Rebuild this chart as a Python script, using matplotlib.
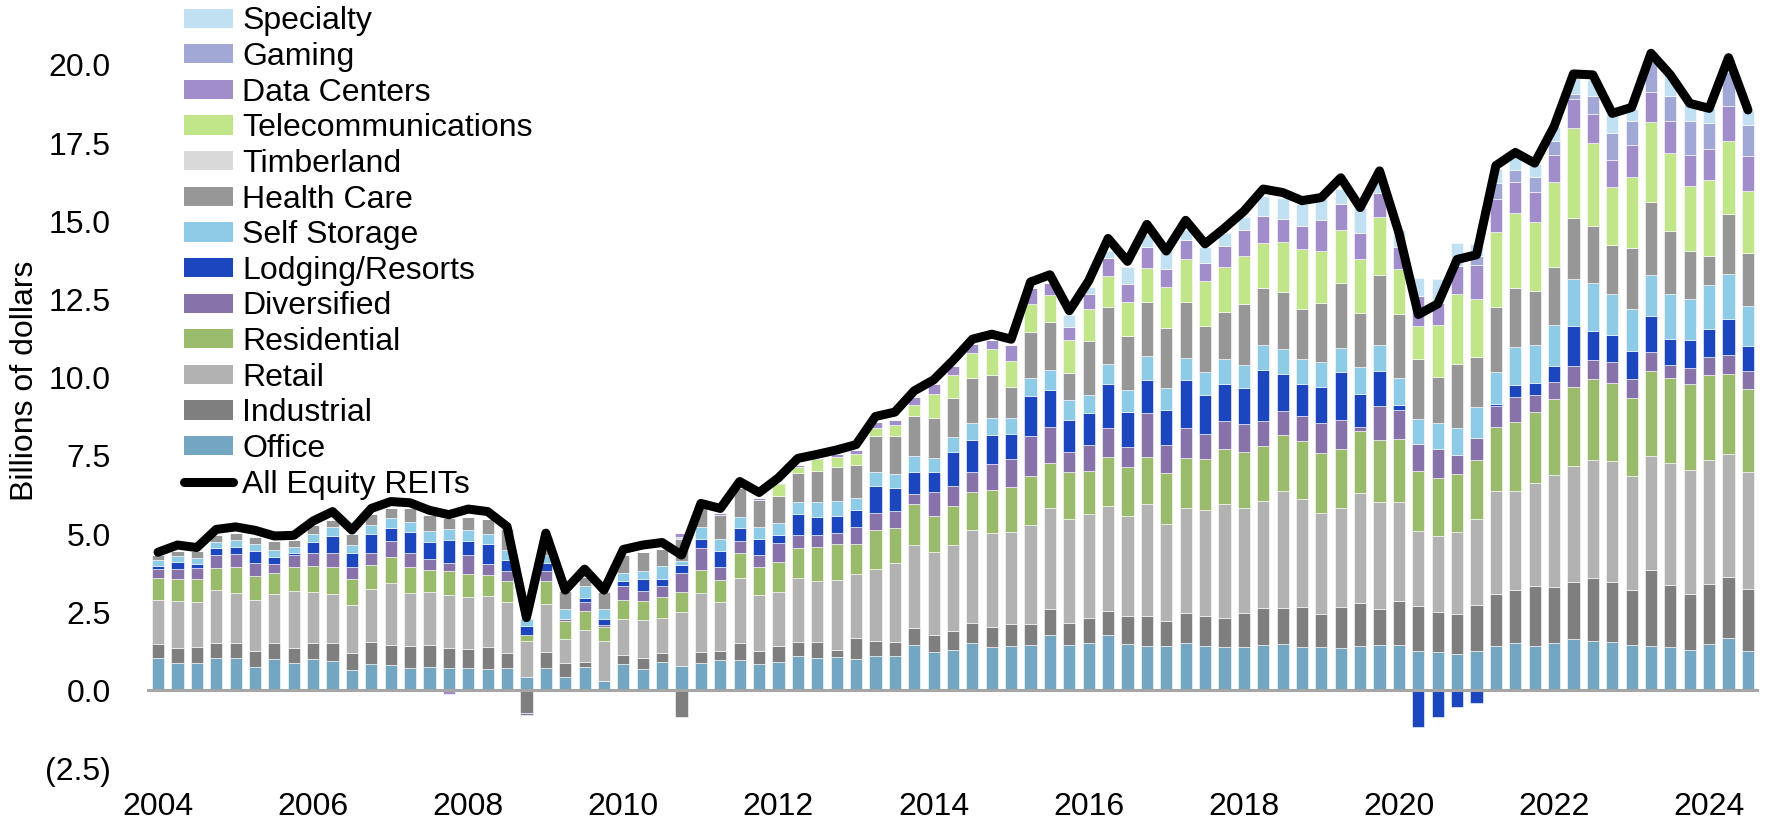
import numpy as np
import matplotlib
matplotlib.use("Agg")
import matplotlib.pyplot as plt
from matplotlib.patches import Patch
from matplotlib.lines import Line2D
from matplotlib.ticker import FuncFormatter

plt.rcParams["font.family"] = ["Liberation Sans", "DejaVu Sans"]

# quarterly, 2004Q1 .. 2024Q3, billions of dollars
office = [1.03, .88, .87, 1.04, 1.03, .75, 1.02, .87, 1.01, .95,
          .64, .84, .80, .72, .75, .72, .72, .68, .71, .44,
          .72, .43, .76, .30, .85, .70, .90, .79, .87, .97,
          .99, .85, .92, 1.11, 1.05, 1.08, 1.00, 1.10, 1.10, 1.45,
          1.24, 1.31, 1.52, 1.39, 1.41, 1.47, 1.76, 1.44, 1.52, 1.76,
          1.48, 1.43, 1.42, 1.53, 1.42, 1.38, 1.38, 1.45, 1.49, 1.38,
          1.39, 1.36, 1.42, 1.45, 1.45, 1.26, 1.23, 1.17, 1.26, 1.42,
          1.53, 1.42, 1.53, 1.64, 1.58, 1.56, 1.45, 1.43, 1.38, 1.29,
          1.49, 1.67, 1.26]
industrial = [.46, .49, .52, .47, .48, .52, .49, .50, .52, .58,
              .57, .72, .67, .70, .71, .65, .62, .72, .50, -.72,
              .52, .46, .15, 0, .28, .34, .30, -.85, .37, .30,
              .52, .41, .50, .45, .50, .20, .69, .48, .46, .56,
              .54, .58, .65, .64, .70, .67, .85, .73, .79, .79,
              .90, .95, .80, .94, .96, .93, 1.10, 1.18, 1.14, 1.28,
              1.07, 1.30, 1.39, 1.17, 1.42, 1.44, 1.29, 1.28, 1.47, 1.65,
              1.69, 1.93, 1.78, 1.84, 2.03, 1.90, 1.75, 2.41, 2.00, 1.78,
              1.93, 1.97, 2.00]
retail = [1.40, 1.50, 1.43, 1.70, 1.62, 1.61, 1.58, 1.80, 1.61, 1.54,
          1.51, 1.68, 1.96, 1.69, 1.68, 1.69, 1.65, 1.61, 1.61, 1.14,
          1.52, .77, 1.01, 1.28, 1.14, 1.20, 1.13, 1.72, 1.87, 1.55,
          2.08, 1.79, 1.74, 2.05, 1.95, 2.26, 2.05, 2.32, 2.52, 2.65,
          2.66, 2.77, 2.97, 2.99, 2.95, 3.16, 3.21, 3.32, 3.32, 3.36,
          3.21, 3.57, 3.11, 3.35, 3.38, 3.64, 3.37, 3.44, 3.75, 3.46,
          3.22, 3.19, 3.49, 3.41, 3.17, 2.39, 2.42, 2.61, 2.74, 3.31,
          3.16, 3.29, 3.57, 3.71, 3.75, 3.87, 3.65, 3.65, 3.90, 3.98,
          3.96, 3.92, 3.74]
residential = [.71, .71, .76, .71, .82, .79, .68, .78, .84, .88,
               .85, .77, .84, .84, .70, .75, .72, .68, .68, .19,
               .75, .57, .63, .46, .62, .62, .65, .65, .74, .71,
               .80, .89, .94, .96, 1.09, 1.15, .95, 1.22, 1.12, 1.29,
               1.15, 1.24, 1.21, 1.38, 1.43, 1.57, 1.44, 1.49, 1.40, 1.54,
               1.54, 1.50, 1.63, 1.61, 1.63, 1.76, 1.79, 1.74, 1.79, 1.86,
               1.91, 1.88, 1.99, 1.97, 1.99, 1.94, 1.84, 1.87, 1.91, 2.04,
               2.21, 2.26, 2.43, 2.51, 2.61, 2.51, 2.51, 2.71, 2.71, 2.75,
               2.69, 2.57, 2.65]
diversified = [.28, .32, .33, .42, .41, .40, .28, .38, .41, .45,
               .38, .40, .50, .45, .36, .25, .62, .35, .32, -.07,
               .32, .05, .28, .06, .46, .32, .37, .59, .72, .43,
               .39, .38, .61, .40, .39, .33, .53, .55, .53, .32,
               .76, .64, .64, .84, .90, 1.27, 1.16, .66, .83, .94,
               .64, 1.41, .88, .96, .81, .90, .88, .80, .77, .79,
               .96, .91, .13, 1.10, .95, .85, .95, .61, .70, .67,
               .79, .55, .54, .67, .59, .67, .59, .62, .41, .50,
               .59, .60, .55]
lodging = [.11, .21, .12, .23, .24, .40, .22, .05, .36, .55,
           .46, .58, .44, .67, .55, .75, .44, .64, .35, .29,
           .24, 0, .14, .19, .15, .39, .22, .26, .27, .50,
           .40, .52, .26, .66, .58, .56, .54, .88, .73, .72,
           .64, 1.07, 1.02, .92, .81, 1.29, 1.19, 1.01, 1.01, 1.41,
           1.13, 1.07, 1.13, 1.54, 1.24, 1.19, 1.15, 1.62, 1.18, 1.02,
           1.16, 1.54, 1.07, 1.10, .15, -1.17, -.85, -.53, -.40, .07,
           .38, .38, .52, 1.29, .93, .84, .90, 1.15, .83, .89,
           .90, 1.14, .80]
self_storage = [.18, .20, .22, .19, .21, .21, .23, .20, .24, .29,
                .25, .29, .31, .31, .36, .36, .36, .32, .32, .22,
                .25, .34, .38, .32, .27, .26, .41, .14, .38, .37,
                .38, .38, .40, .41, .47, .49, .38, .44, .47, .50,
                .44, .50, .55, .54, .50, .56, .63, .63, .57, .64,
                .72, .77, .70, .71, .75, .79, .72, .81, .81, .81,
                .78, .78, .86, .86, .85, .79, .81, .85, .98, 1.03,
                1.23, 1.22, 1.32, 1.50, 1.53, 1.31, 1.35, 1.32, 1.44, 1.33,
                1.40, 1.43, 1.30]
health_care = [.16, .15, .22, .21, .22, .22, .29, .23, .30, .21,
               .33, .35, .30, .44, .49, .33, .43, .49, .66, .05,
               .55, .55, .29, .53, .56, .59, .55, .70, .70, .78,
               .90, .87, .85, .92, .99, 1.06, 1.08, 1.13, 1.21, 1.30,
               1.29, 1.24, 1.44, 1.40, 1.01, 1.46, 1.54, .86, 1.74, 1.83,
               1.72, 1.72, 1.93, 1.79, 1.46, 1.51, 1.98, 1.83, 1.82, 1.61,
               1.91, 2.06, 1.71, 2.21, 2.05, 1.92, 1.47, 2.04, 1.61, 2.08,
               1.88, 1.72, 1.85, 1.95, 1.83, 1.58, 1.94, 2.32, 2.03, 1.54,
               .94, 1.93, 1.68]
timberland = [0] * 27 + [.05] + [0] * 55
telecom = [0] * 32 + [.37, .20, .37, .34, .34, .28, .36, .34,
                      .77, .73, .78, .81, .81, .91, .85, 1.08, 1.00, .99,
                      1.09, 1.09, 1.31, 1.35, 1.44, 1.44, 1.53, 1.44, 1.59, 1.91,
                      1.64, 1.69, 1.74, 1.87, 1.43, 1.06, 1.66, 2.25, 1.86, 2.40,
                      2.41, 2.20, 2.71, 2.86, 2.64, 1.86, 2.27, 2.56, 2.47, 2.08,
                      2.42, 2.35, 1.99]
data_centers = [0] * 15 + [-.10, 0, 0, .06, 0,
                           .05, 0, .05, .04, 0, 0, 0, .12, .06, .05,
                           .07, .06, .05, .05, .05, .08, .13, .19, .15, .24,
                           .30, .30, .30, .31, .54, .50, .41, .41, .50, .57,
                           .58, .68, .58, .63, .58, .68, .81, .86, .73, .72,
                           .99, .83, .83, .78, .73, .97, .73, .88, 1.07, 1.03,
                           .99, .96, .87, .94, .94, .85, 1.03, .95, 1.04, .98,
                           .99, 1.12, 1.13]
gaming = [0] * 68 + [.30, .51, .37, .47, .45, .16, .58, .87, .78, .98,
                     .80, 1.07, .84, 1.08, .98]
specialty = [0] * 47 + [.38, .23, .23, .54, .36, .58, .30, .52, .42, .44,
                        .64, .66, .70, .70, .49, .81, .33, .52, .57, .76,
                        .75, .37, .45, .40, .42, .45, .50, .51, .62, .38,
                        .27, .67, .58, .46, .42, .48]
all_equity = [4.42, 4.65, 4.57, 5.15, 5.23, 5.12, 4.94, 4.96, 5.42, 5.72,
              5.13, 5.82, 6.04, 6.00, 5.76, 5.62, 5.80, 5.72, 5.24, 2.33,
              5.03, 3.21, 3.88, 3.21, 4.51, 4.65, 4.73, 4.33, 5.98, 5.82,
              6.68, 6.33, 6.80, 7.42, 7.55, 7.69, 7.86, 8.76, 8.90, 9.58,
              9.93, 10.55, 11.23, 11.39, 11.23, 13.06, 13.29, 12.14, 13.10, 14.45,
              13.72, 14.90, 14.05, 15.03, 14.28, 14.78, 15.32, 16.03, 15.92, 15.66,
              15.76, 16.39, 15.44, 16.61, 14.63, 12.02, 12.36, 13.78, 13.93, 16.78,
              17.20, 16.86, 18.03, 19.71, 19.68, 18.45, 18.64, 20.37, 19.68, 18.77,
              18.61, 20.23, 18.56]

years = list(range(2004, 2025, 2))

series = [
    ("Office", office, "#73a7c1"),
    ("Industrial", industrial, "#7f7f7f"),
    ("Retail", retail, "#b2b2b2"),
    ("Residential", residential, "#9bbb6c"),
    ("Diversified", diversified, "#8773a9"),
    ("Lodging/Resorts", lodging, "#1c46bd"),
    ("Self Storage", self_storage, "#8ecbe7"),
    ("Health Care", health_care, "#979797"),
    ("Timberland", timberland, "#d9d9d9"),
    ("Telecommunications", telecom, "#c1e589"),
    ("Data Centers", data_centers, "#a18dca"),
    ("Gaming", gaming, "#a2a8d6"),
    ("Specialty", specialty, "#c1e0f1"),
]

FS = 23
W, H = 1768, 825
fig = plt.figure(figsize=(W / 100, H / 100), dpi=100)
ax = fig.add_axes([147 / W, 1 - 768.7 / H, (1759 - 147) / W, (768.7 - 33.6) / H])

x = np.arange(len(office))
pos = np.zeros(len(x))
neg = np.zeros(len(x))
for name, vals, color in series:
    v = np.array(vals, dtype=float)
    bottom = np.where(v >= 0, pos, neg)
    ax.bar(x, v, 0.63, bottom=bottom, color=color, edgecolor="white",
           linewidth=0.4, zorder=2)
    pos += np.clip(v, 0, None)
    neg += np.clip(v, None, 0)

ax.axhline(0, color="#a6a6a6", lw=2.2, zorder=3)
ax.plot(x, all_equity, color="black", lw=6.5, solid_joinstyle="round",
        solid_capstyle="round", zorder=4, clip_on=False)

ax.set_xlim(-0.57, len(x) - 1 + 0.57)
ax.set_ylim(-2.5, 21.0)
ax.set_yticks(np.arange(-2.5, 20.1, 2.5))
ax.yaxis.set_major_formatter(FuncFormatter(
    lambda v, p: f"({abs(v):.1f})" if v < 0 else f"{v:.1f}"))
ax.set_xticks([(y - 2004) * 4 for y in years])
ax.set_xticklabels([str(y) for y in years])
ax.tick_params(axis="both", length=0, labelsize=FS)
ax.tick_params(axis="y", pad=26)
ax.tick_params(axis="x", pad=17)
for s in ax.spines.values():
    s.set_visible(False)

fig.text(25 / W, 1 - 381 / H, "Billions of dollars", rotation=90,
         ha="center", va="center", fontsize=FS)

handles = [Patch(facecolor=c, label=n) for n, _, c in series[::-1]]
handles.append(Line2D([], [], color="black", lw=6.5, solid_capstyle="round",
                      label="All Equity REITs"))
fig.legend(handles=handles, loc="upper left",
           bbox_to_anchor=(184 / W, 1 - 6.5 / H), bbox_transform=fig.transFigure,
           frameon=False, fontsize=FS, borderpad=0, borderaxespad=0,
           labelspacing=0.176, handlelength=1.54, handleheight=0.55,
           handletextpad=0.28)

fig.savefig("out.png", dpi=100)
